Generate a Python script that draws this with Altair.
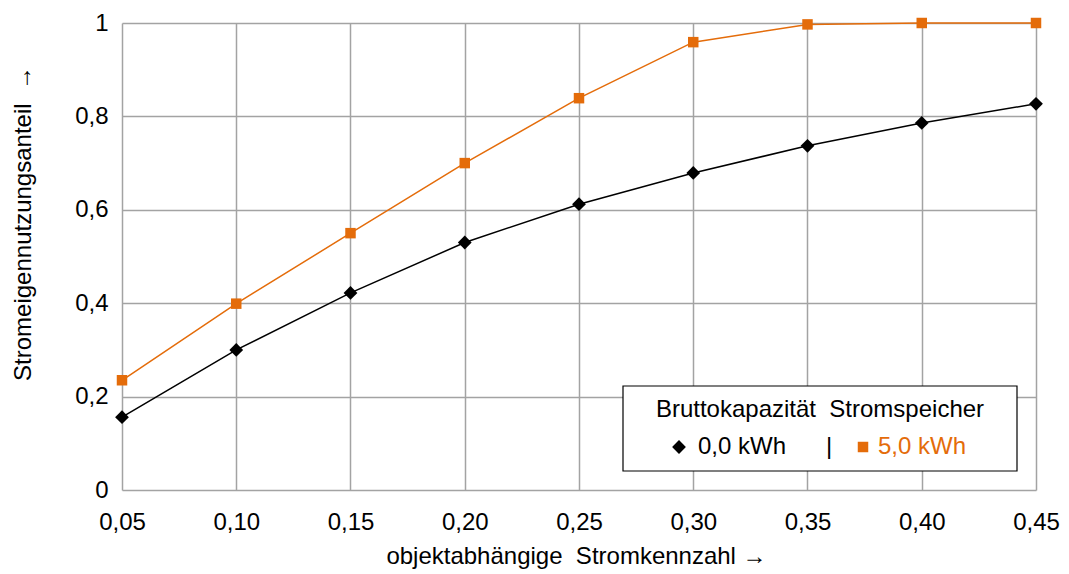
import altair as alt
import pandas as pd

# ---- data ----
x_vals = [0.05, 0.10, 0.15, 0.20, 0.25, 0.30, 0.35, 0.40, 0.45]
y_0kwh = [0.156, 0.300, 0.422, 0.530, 0.612, 0.679, 0.737, 0.786, 0.827]
y_5kwh = [0.235, 0.399, 0.550, 0.700, 0.839, 0.959, 0.997, 1.000, 1.000]
series_names = ["0,0 kWh", "5,0 kWh"]
series_colors = ["#000000", "#E46C0A"]
x_ticks = [0.05, 0.10, 0.15, 0.20, 0.25, 0.30, 0.35, 0.40, 0.45]
y_ticks = [0, 0.2, 0.4, 0.6, 0.8, 1.0]
legend_title = "Bruttokapazität\u00a0 Stromspeicher"
x_title = "objektabhängige\u00a0 Stromkennzahl\u00a0→"
y_title = "Stromeigennutzungsanteil\u00a0\u00a0→"

FONT = "Liberation Sans"
FS = 24

rows = []
for name, ys in zip(series_names, [y_0kwh, y_5kwh]):
    for xv, yv in zip(x_vals, ys):
        rows.append({"x": xv, "y": yv, "series": name})
df = pd.DataFrame(rows)

W, H = 914, 467

xscale = alt.Scale(domain=[0.05, 0.45], nice=False, zero=False)
yscale = alt.Scale(domain=[0, 1], nice=False)
cscale = alt.Scale(domain=series_names, range=series_colors)

xaxis = alt.Axis(
    values=x_ticks, labelExpr="replace(format(datum.value, '.2f'), '.', ',')",
    title=x_title, titleX=W / 2 - 3, titleY=73, titleBaseline="alphabetic",
    labelPadding=20, labelFlush=False, labelOverlap=False, grid=True,
)
yaxis = alt.Axis(
    values=y_ticks,
    labelExpr="datum.value == 0 ? '0' : (datum.value == 1 ? '1' : replace(format(datum.value, '.1f'), '.', ','))",
    title=y_title, titleX=-99, titleY=200, titleBaseline="middle", titleAngle=-90,
    labelPadding=14, labelFlush=False, labelOverlap=False, grid=True,
)

base = alt.Chart(df)

lines = base.mark_line(strokeWidth=1.5).encode(
    x=alt.X("x:Q", scale=xscale, axis=xaxis),
    y=alt.Y("y:Q", scale=yscale, axis=yaxis),
    color=alt.Color("series:N", scale=cscale, legend=None),
    detail="series:N",
)

pts_black = base.transform_filter(alt.datum.series == series_names[0]).mark_point(
    shape="diamond", filled=True, size=190, opacity=1
).encode(
    x=alt.X("x:Q", scale=xscale),
    y=alt.Y("y:Q", scale=yscale),
    color=alt.Color("series:N", scale=cscale, legend=None),
)
pts_orange = base.transform_filter(alt.datum.series == series_names[1]).mark_point(
    shape="square", filled=True, size=110, opacity=1
).encode(
    x=alt.X("x:Q", scale=xscale),
    y=alt.Y("y:Q", scale=yscale),
    color=alt.Color("series:N", scale=cscale, legend=None),
)

# ---- manual legend box ----
one = pd.DataFrame({"a": [0]})
leg_box = alt.Chart(one).mark_rect(fill="white", stroke="black", strokeWidth=1.2).encode(
    x=alt.value(501), x2=alt.value(895), y=alt.value(363), y2=alt.value(448)
)
leg_title = alt.Chart(one).mark_text(
    text=legend_title, font=FONT, fontSize=FS, align="center", baseline="middle", color="black"
).encode(x=alt.value(698), y=alt.value(387))
leg_sym1 = alt.Chart(one).mark_point(shape="diamond", filled=True, size=190, color=series_colors[0], opacity=1).encode(
    x=alt.value(557), y=alt.value(424))
leg_txt1 = alt.Chart(one).mark_text(
    text=series_names[0], font=FONT, fontSize=FS, align="left", baseline="middle", color=series_colors[0]
).encode(x=alt.value(576), y=alt.value(424))
leg_sep = alt.Chart(one).mark_text(
    text="|", font=FONT, fontSize=FS, align="center", baseline="middle", color="black"
).encode(x=alt.value(707), y=alt.value(424))
leg_sym2 = alt.Chart(one).mark_point(shape="square", filled=True, size=110, color=series_colors[1], opacity=1).encode(
    x=alt.value(741), y=alt.value(424))
leg_txt2 = alt.Chart(one).mark_text(
    text=series_names[1], font=FONT, fontSize=FS, align="left", baseline="middle", color=series_colors[1]
).encode(x=alt.value(756), y=alt.value(424))

chart = alt.layer(
    lines, pts_black, pts_orange, leg_box, leg_title, leg_sym1, leg_txt1, leg_sep, leg_sym2, leg_txt2
).properties(
    width=W, height=H,
    autosize=alt.AutoSizeParams(type="none"),
    padding={"left": 114, "top": 15, "right": 25, "bottom": 80},
    background="white",
).configure_view(
    stroke=None
).configure_axis(
    domain=False, ticks=False,
    gridColor="#a3a3a3", gridWidth=1.5, gridOpacity=1,
    labelFont=FONT, labelFontSize=FS, labelColor="black",
    titleFont=FONT, titleFontSize=FS, titleColor="black", titleFontWeight="normal",
)

chart.save("out.html", embed_options={"renderer": "svg", "actions": False})
